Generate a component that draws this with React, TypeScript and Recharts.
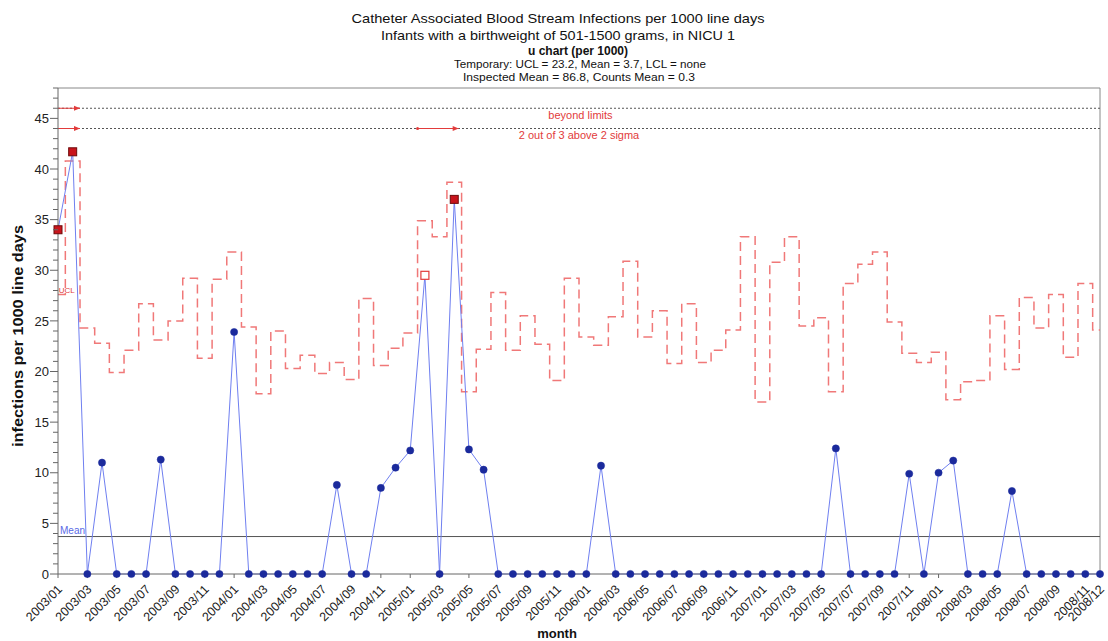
import React from 'react';
import { ComposedChart, Line, XAxis, YAxis, ReferenceLine, ReferenceDot } from 'recharts';

const MONTHS = [
  '2003/01','2003/02','2003/03','2003/04','2003/05','2003/06','2003/07','2003/08','2003/09','2003/10','2003/11','2003/12',
  '2004/01','2004/02','2004/03','2004/04','2004/05','2004/06','2004/07','2004/08','2004/09','2004/10','2004/11','2004/12',
  '2005/01','2005/02','2005/03','2005/04','2005/05','2005/06','2005/07','2005/08','2005/09','2005/10','2005/11','2005/12',
  '2006/01','2006/02','2006/03','2006/04','2006/05','2006/06','2006/07','2006/08','2006/09','2006/10','2006/11','2006/12',
  '2007/01','2007/02','2007/03','2007/04','2007/05','2007/06','2007/07','2007/08','2007/09','2007/10','2007/11','2007/12',
  '2008/01','2008/02','2008/03','2008/04','2008/05','2008/06','2008/07','2008/08','2008/09','2008/10','2008/11','2008/12',
];

const RATE = [
  34.0, 41.7, 0, 11.0, 0, 0, 0, 11.3, 0, 0, 0, 0,
  23.9, 0, 0, 0, 0, 0, 0, 8.8, 0, 0, 8.5, 10.5,
  12.2, 29.5, 0, 37.0, 12.3, 10.3, 0, 0, 0, 0, 0, 0,
  0, 10.7, 0, 0, 0, 0, 0, 0, 0, 0, 0, 0,
  0, 0, 0, 0, 0, 12.4, 0, 0, 0, 0, 9.9, 0,
  10.0, 11.2, 0, 0, 0, 8.2, 0, 0, 0, 0, 0, 0,
];

const UCL = [
  27.6, 40.8, 24.3, 22.8, 19.9, 22.1, 26.7, 23.1, 25.0, 29.2, 21.3, 29.1,
  31.8, 24.4, 17.8, 24.0, 20.3, 21.6, 19.8, 20.9, 19.2, 27.2, 20.6, 22.3,
  23.8, 34.9, 33.3, 38.7, 18.0, 22.2, 27.8, 22.1, 25.5, 22.7, 19.1, 29.2,
  23.4, 22.6, 25.4, 30.9, 23.4, 26.0, 20.8, 26.7, 20.9, 22.1, 24.1, 33.3,
  17.0, 30.8, 33.3, 24.5, 25.3, 18.0, 28.7, 30.6, 31.8, 24.9, 21.8, 20.9,
  21.9, 17.2, 19.0, 19.1, 25.5, 20.2, 27.3, 24.3, 27.6, 21.4, 28.7, 24.1,
];

// beyond limits / 2 out of 3 above 2 sigma
const BEYOND_IDX = [0, 1, 27];
const TWO_OF_THREE_IDX = [25];

const MEAN = 3.7;
const BEYOND_Y = 46;
const SIGMA_Y = 44;

const X_TICKS = [0,2,4,6,8,10,12,14,16,18,20,22,24,26,28,30,32,34,36,38,40,42,44,46,48,50,52,54,56,58,60,62,64,66,68,70,71];
const Y_TICKS = [0,1,2,3,4,5,6,7,8,9,10,11,12,13,14,15,16,17,18,19,20,21,22,23,24,25,26,27,28,29,30,31,32,33,34,35,36,37,38,39,40,41,42,43,44,45,46,47,48];
const Y_LABELS = [0, 5, 10, 15, 20, 25, 30, 35, 40, 45];

const TITLE = [
  'Catheter Associated Blood Stream Infections per 1000 line days',
  'Infants with a birthweight of 501-1500 grams, in NICU 1',
  'u chart (per 1000)',
  'Temporary: UCL = 23.2, Mean = 3.7, LCL = none',
  'Inspected Mean = 86.8, Counts Mean = 0.3',
];

const data = MONTHS.map((m, i) => ({
  i,
  month: m,
  rate: RATE[i],
  ucl: UCL[i],
  signal: BEYOND_IDX.includes(i) ? 'B' : TWO_OF_THREE_IDX.includes(i) ? 'T' : '',
}));

const W = 1108;
const H = 641;
const PLOT_LEFT = 58;
const RED = '#e23b3b';
const FONT = 'Liberation Sans, Arial, sans-serif';

const Dot = (props: any) => {
  const { cx, cy, payload, index } = props;
  if (cx == null || cy == null) return null;
  if (payload.signal === 'B')
    return <rect key={`d${index}`} x={cx - 4} y={cy - 4} width={8} height={8} fill="#c8141c" stroke="#6e0a0a" strokeWidth={1} />;
  if (payload.signal === 'T')
    return <rect key={`d${index}`} x={cx - 4} y={cy - 4} width={8} height={8} fill="#fff" stroke={RED} strokeWidth={1.2} />;
  return <circle key={`d${index}`} cx={cx} cy={cy} r={3.6} fill="#1b2a9c" stroke="#1b2a9c" strokeWidth={0.5} />;
};

const YTick = (props: any) => {
  const { y, payload } = props;
  const v = payload.value;
  const major = v % 5 === 0;
  return (
    <g>
      <line x1={PLOT_LEFT - (major ? 8 : 5)} x2={PLOT_LEFT} y1={y} y2={y} stroke="#666" strokeWidth={1} />
      {Y_LABELS.includes(v) && (
        <text x={PLOT_LEFT - 9} y={y} dy="0.36em" textAnchor="end" fontSize={13} fill="#222" fontFamily={FONT}>
          {v}
        </text>
      )}
    </g>
  );
};

const XTick = (props: any) => {
  const { x, y, payload } = props;
  return (
    <g transform={`translate(${x + 5},${y + 10})`}>
      <text transform="rotate(-45)" textAnchor="end" fontSize={12.5} fill="#1a1a1a" fontFamily={FONT}>
        {MONTHS[payload.value]}
      </text>
    </g>
  );
};

const ArrowHead = (props: any) => {
  const { cx, cy } = props;
  if (cx == null || cy == null) return null;
  return <polygon points={`${cx},${cy} ${cx - 6},${cy - 2.5} ${cx - 6},${cy + 2.5}`} fill={RED} />;
};

const StartMark = (props: any) => {
  const { cx, cy } = props;
  if (cx == null || cy == null) return null;
  return <circle cx={cx} cy={cy} r={1.5} fill={RED} />;
};

const makeText = (txt: string, size: number, color: string) => (props: any) => {
  const { cx, cy } = props;
  if (cx == null || cy == null) return null;
  return (
    <text x={cx} y={cy} dy="0.35em" textAnchor="middle" fontSize={size} fill={color} fontFamily={FONT}>
      {txt}
    </text>
  );
};

const MeanLabel = (props: any) => {
  const vb = props.viewBox || {};
  return (
    <text x={(vb.x ?? PLOT_LEFT) + 2} y={(vb.y ?? 0) - 3} fontSize={10} fill="#5a6ae6" fontFamily={FONT}>
      Mean
    </text>
  );
};

export default function App() {
  return (
    <div style={{ position: 'absolute', left: 0, top: 0, width: W, height: H, background: '#fff' }}>
      <div style={{ position: 'absolute', left: 0, top: 0 }}>
        <ComposedChart width={W} height={H} data={data} margin={{ top: 88, right: 8, bottom: 0, left: 0 }}>
          <XAxis
            dataKey="i"
            type="number"
            domain={[0, 71]}
            ticks={X_TICKS}
            interval={0}
            tick={<XTick />}
            tickSize={4}
            tickMargin={2}
            height={67}
            stroke="#666"
            allowDecimals={false}
          />
          <YAxis
            type="number"
            domain={[0, 48]}
            ticks={Y_TICKS}
            interval={0}
            tick={<YTick />}
            tickLine={false}
            width={58}
            stroke="#666"
          />
          <ReferenceLine y={48} stroke="#888" />
          <ReferenceLine x={71} stroke="#888" />
          <ReferenceLine y={BEYOND_Y} stroke="#555" strokeDasharray="2 2" />
          <ReferenceLine y={SIGMA_Y} stroke="#555" strokeDasharray="2 2" />
          <ReferenceLine segment={[{ x: 0, y: BEYOND_Y }, { x: 1.5, y: BEYOND_Y }]} stroke={RED} />
          <ReferenceLine segment={[{ x: 0, y: SIGMA_Y }, { x: 1.5, y: SIGMA_Y }]} stroke={RED} />
          <ReferenceLine segment={[{ x: 24.5, y: SIGMA_Y }, { x: 27.3, y: SIGMA_Y }]} stroke={RED} />
          <ReferenceDot x={1.5} y={BEYOND_Y} r={3} shape={ArrowHead} />
          <ReferenceDot x={1.5} y={SIGMA_Y} r={3} shape={ArrowHead} />
          <ReferenceDot x={27.3} y={SIGMA_Y} r={3} shape={ArrowHead} />
          <ReferenceDot x={24.5} y={SIGMA_Y} r={3} shape={StartMark} />
          <ReferenceDot x={35.6} y={45.3} r={1} shape={makeText('beyond limits', 11, RED)} />
          <ReferenceDot x={35.5} y={43.3} r={1} shape={makeText('2 out of 3 above 2 sigma', 11, RED)} />
          <ReferenceDot x={0.6} y={28.0} r={1} shape={makeText('UCL', 8, RED)} />
          <Line
            type="step"
            dataKey="ucl"
            stroke="#f07878"
            strokeWidth={1.5}
            strokeDasharray="9 5"
            dot={false}
            activeDot={false}
            isAnimationActive={false}
          />
          <ReferenceLine y={MEAN} stroke="#555" label={<MeanLabel />} />
          <Line
            type="linear"
            dataKey="rate"
            stroke="#6f7ff0"
            strokeWidth={1}
            dot={<Dot />}
            activeDot={false}
            isAnimationActive={false}
          />
        </ComposedChart>
      </div>
      <svg
        width={W}
        height={H}
        style={{ position: 'absolute', left: 0, top: 0, pointerEvents: 'none' }}
        fontFamily={FONT}
      >
        <text x={558} y={23} textAnchor="middle" fontSize={13.5} fill="#111" textLength={413} lengthAdjust="spacingAndGlyphs">{TITLE[0]}</text>
        <text x={558} y={40} textAnchor="middle" fontSize={13.5} fill="#111" textLength={354} lengthAdjust="spacingAndGlyphs">{TITLE[1]}</text>
        <text x={578} y={55} textAnchor="middle" fontSize={12} fontWeight="bold" fill="#111">{TITLE[2]}</text>
        <text x={580} y={68} textAnchor="middle" fontSize={11.5} fill="#111" textLength={252} lengthAdjust="spacingAndGlyphs">{TITLE[3]}</text>
        <text x={579} y={81} textAnchor="middle" fontSize={11.5} fill="#111" textLength={232} lengthAdjust="spacingAndGlyphs">{TITLE[4]}</text>
        <text x={557} y={638} textAnchor="middle" fontSize={13} fontWeight="bold" fill="#111">month</text>
        <text
          transform="translate(23,336) rotate(-90)"
          textAnchor="middle"
          fontSize={14}
          fontWeight="bold"
          fill="#111"
          textLength={222}
          lengthAdjust="spacingAndGlyphs"
        >
          infections per 1000 line days
        </text>
      </svg>
    </div>
  );
}
